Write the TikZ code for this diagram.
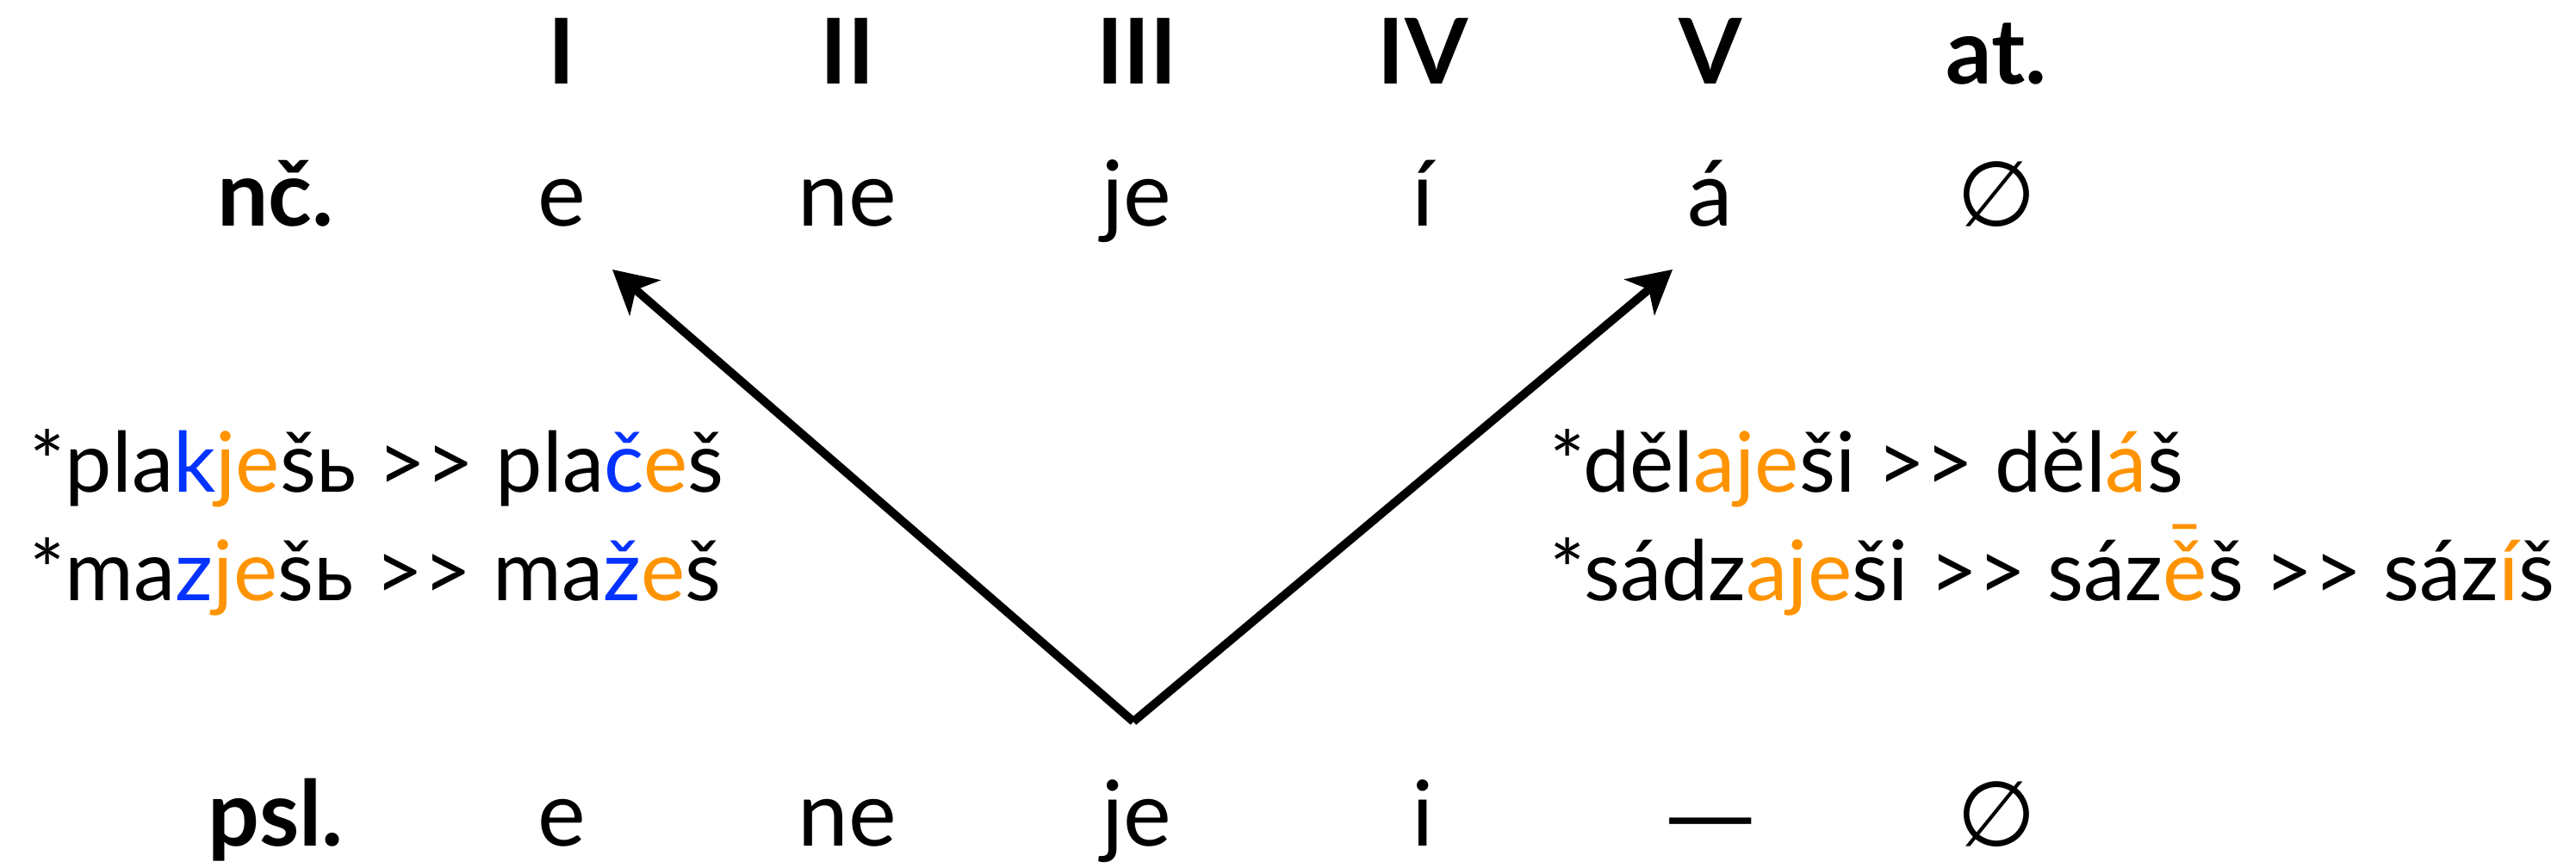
\documentclass[tikz,border=0pt]{standalone}
\usepackage{fontspec}
\setmainfont{Lato}
\newfontfamily\symfont{DejaVu Sans}
\usetikzlibrary{arrows.meta,positioning}
\definecolor{soundblue}{HTML}{0433FF}
\definecolor{soundorange}{HTML}{FF9300}

\newcommand{\bl}[1]{\textcolor{soundblue}{#1}}
\newcommand{\og}[1]{\textcolor{soundorange}{#1}}
\newcommand{\nul}{{\symfont ∅}}
\newcommand{\gap}{{\symfont —}}
\newcommand{\ecm}{\ooalign{ě\cr\hidewidth\raisebox{0.24em}{¯}\hidewidth\cr}}

\begin{document}
\begin{tikzpicture}[
  every node/.style={inner sep=0pt, anchor=base},
  cell/.style={font=\fontsize{30}{36}\selectfont},
  head/.style={font=\fontsize{30}{36}\selectfont\bfseries},
  form/.style={font=\fontsize{27.6}{33}\selectfont, anchor=base west},
  derive/.style={line width=2.8pt, -{Stealth[length=0.5cm, width=0.54cm, inset=0.14cm]}}
]
\useasboundingbox (0,0) rectangle (29.91,10.08);

% column headings
\foreach \lbl/\x [count=\i] in {I/6.52, II/9.84, III/13.20, IV/16.52, V/19.86, at./23.18}
  \node[head] (h\i) at (\x, 9.10) {\lbl};

% modern Czech row
\node[head] (nc) at (3.20, 7.45) {nč.};
\foreach \lbl/\x [count=\i] in {e/6.52, ne/9.84, je/13.20, í/16.52, á/19.86, \nul/23.18}
  \node[cell] (nc\i) at (\x, 7.45) {\lbl};

% Proto-Slavic row
\node[head] (psl) at (3.20, 0.25) {psl.};
\foreach \lbl/\x [count=\i] in {e/6.52, ne/9.84, je/13.20, i/16.52, \gap/19.86, \nul/23.18}
  \node[cell] (psl\i) at (\x, 0.25) {\lbl};

% example forms
\node[form] (fa) at (0.34, 4.36) {*pla\bl{k}\og{je}šь >{}> pla\bl{č}\og{e}š};
\node[form] (fb) at (0.34, 3.10) {*ma\bl{z}\og{je}šь >{}> ma\bl{ž}\og{e}š};
\node[form] (fc) at (17.99, 4.36) {*děl\og{aje}ši >{}> děl\og{á}š};
\node[form] (fd) at (17.99, 3.10) {*sádz\og{aje}ši >{}> sáz\og{\ecm}š >{}> sáz\og{í}š};

% shifts from III
\coordinate (fork) at (13.16, 1.70);
\coordinate (tipI) at (7.11, 6.95);
\coordinate (tipV) at (19.42, 6.95);
\draw[derive] (fork) -- (tipI);
\draw[derive] (fork) -- (tipV);

\end{tikzpicture}
\end{document}
